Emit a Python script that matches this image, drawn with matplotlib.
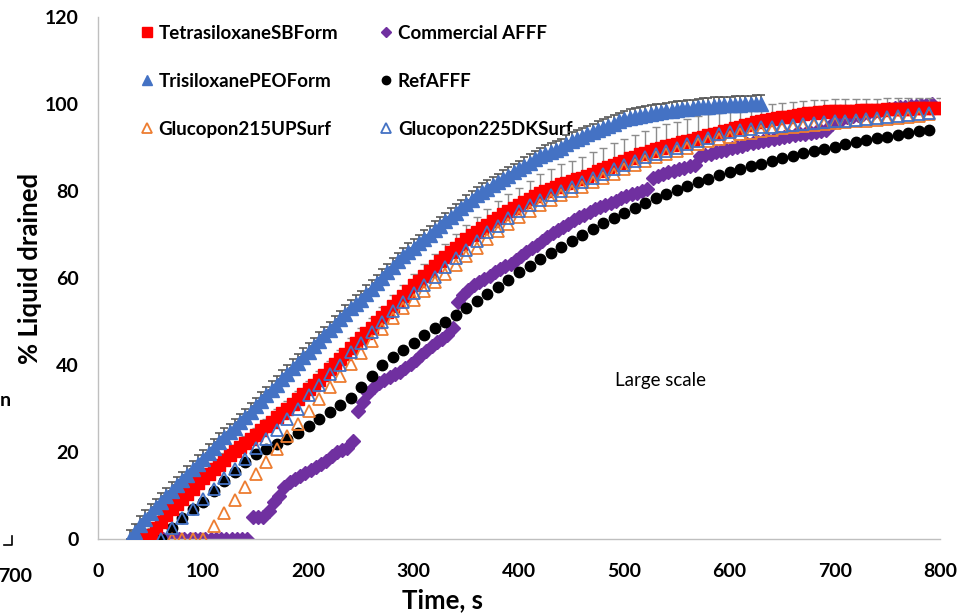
import numpy as np
import matplotlib
matplotlib.use("Agg")
import matplotlib.pyplot as plt

# Data (% liquid drained vs time, s)
# every series is sampled at a fixed step starting at its first time

blue_start, blue_step = 30, 5
blue_vals = [0, 1.5, 3.2, 4.6, 6, 7.3, 8.5, 9.8, 11, 12.3, 13.5, 14.8, 16, 17.2,
             18.5, 19.8, 21, 22.3, 23.5, 24.5, 25.5, 26.8, 28, 29.3, 30.5, 31.8,
             33, 34.3, 35.5, 36.8, 38, 39.3, 40.5, 41.8, 43, 44.3, 45.5, 46.8, 48,
             49.3, 50.5, 51.8, 53, 54, 55, 56.3, 57.5, 58.8, 60, 61.3, 62.5, 63.8,
             65, 66, 67, 68, 69, 70, 71, 72, 73, 74, 75, 76, 77, 78, 79, 79.8,
             80.5, 81.3, 82, 82.8, 83.5, 84.3, 85, 85.8, 86.5, 87.3, 88, 88.5, 89,
             89.5, 90, 90.8, 91.5, 92, 92.5, 93, 93.5, 94, 94.5, 95, 95.5, 96,
             96.5, 96.8, 97, 97.3, 97.5, 97.7, 97.9, 98.1, 98.3, 98.5, 98.6, 98.8,
             98.9, 99, 99.2, 99.3, 99.4, 99.5, 99.6, 99.7, 99.7, 99.8, 99.8, 99.9,
             99.9, 100, 100]
blue_err = 2.0

red_start, red_step = 45, 5
red_vals = [0, 1, 2.5, 4, 5.5, 6.8, 8, 9.2, 10.4, 11.6, 12.8, 14, 15, 16, 17.1,
            18.2, 19.2, 20.2, 21.2, 22.1, 23, 24, 25, 26, 27, 28, 29, 30, 31.1,
            32.2, 33.3, 34.4, 35.5, 36.6, 37.8, 39, 40.2, 41.4, 42.6, 43.8, 45,
            46.2, 47.4, 48.6, 49.8, 51, 52.2, 53.5, 54.7, 55.9, 57.1, 58.3, 59.4,
            60.5, 61.6, 62.7, 63.8, 64.9, 65.9, 66.9, 67.9, 68.9, 69.8,
            70.6, 71.4, 72.2, 73, 73.8, 74.6, 75.4, 76.1, 76.8, 77.5, 78.2, 78.9,
            79.5, 80, 80.5, 81, 81.5, 81.9, 82.3, 82.7, 83, 83.5, 84, 84.5, 85,
            85.5, 86, 86.5, 87, 87.5, 87.9, 88.4, 88.8, 89.2, 89.6, 90, 90.3, 90.6,
            90.9, 91.2, 91.5, 91.8, 92.2, 92.5, 92.8, 93.1, 93.4, 93.7, 94, 94.4,
            94.8, 95.2, 95.5, 95.8, 96, 96.3, 96.5, 96.7, 96.9, 97.1, 97.3, 97.5,
            97.7, 97.9, 98, 98.1, 98.2, 98.3, 98.3, 98.4, 98.4, 98.5, 98.5, 98.6,
            98.6, 98.7, 98.7, 98.7, 98.8, 98.8, 98.8, 98.9, 98.9, 99, 99, 99, 99,
            99, 99]
# upper error bars on every other red point (t = 50, 60, ... 800)
red_err = [1.5, 1.5, 1.5, 1.5, 1.5, 1.5, 1.5, 1.5, 1.5, 1.5,
           1.5, 1.5, 1.8, 1.8, 1.8, 2, 2, 2, 2, 2.3,
           2.3, 2.3, 2.4, 2.5, 2.6, 2.7, 2.8, 2.9, 3, 3.2,
           3.3, 3.4, 3.6, 3.8, 3.9, 4, 4.2, 4.3, 4.5, 4.6,
           4.7, 4.8, 4.9, 5, 5, 5, 5, 5, 5, 5,
           5, 5, 5, 4.8, 4.6, 4.4, 4.2, 4, 3.8, 3.5,
           3.3, 3.2, 3, 3, 2.8, 2.8, 2.7, 2.6, 2.5, 2.5,
           2.5, 2.5, 2.4, 2.4, 2.3, 2.3]

g225_start, g225_step = 60, 10
g225_vals = [0, 2.5, 4.8, 7, 9.3, 11.5, 14, 16.2, 18.5, 21, 23, 25, 27.5, 30, 33,
             35.5, 38, 40, 43, 45, 47.5, 50, 52.5, 54.5, 56.5, 58.3, 60.3, 62.5,
             64.5, 66.5, 68.5, 70.5, 72, 73.8, 75.5, 76.8, 78, 79, 80, 81, 82, 83,
             84, 85, 86, 87, 87.8, 88.5, 89.3, 90, 90.8, 91.5, 92.2, 93, 93.5, 94,
             94.3, 94.6, 94.8, 95, 95.2, 95.4, 95.6, 95.8, 96, 96.2, 96.4, 96.6,
             96.8, 97, 97.2, 97.5, 97.8, 98]

g215_start, g215_step = 70, 10
g215_vals = [0, 0, 0, 0, 3, 6, 9, 12, 15, 17.7, 20.7, 23.7, 26.5, 29.5, 32.2, 35,
             37.5, 40.2, 42.8, 45.5, 48.2, 50.8, 53, 55, 57, 59, 61, 63, 65, 67,
             69, 70.8, 72.5, 74, 75.5, 76.8, 78, 79, 80, 81, 82, 83, 84, 85, 86,
             87, 87.8, 88.5, 89.3, 90, 90.8, 91.5, 92, 92.5, 93, 93.4, 93.8, 94.1,
             94.4, 94.7, 95, 95.2, 95.4, 95.6, 95.8, 96, 96.2, 96.4, 96.6, 96.8, 97,
             97.3, 97.6]

ref_start, ref_step = 60, 10
ref_vals = [0, 2.5, 4.8, 6.8, 8.5, 11, 13.3, 15.5, 17.8, 19.6, 20.8, 21.8, 23,
            24.4, 26, 27.7, 29.2, 30.8, 32.5, 35, 37.5, 40, 41.8, 43.5, 45, 46.8,
            48.5, 50, 51.5, 53, 54.7, 56.4, 58, 59.6, 61.3, 62.8, 64.3, 65.8, 67.2,
            68.6, 70, 71.3, 72.6, 73.8, 75, 76.1, 77.2, 78.3, 79.3, 80.3, 81.2, 82,
            82.8, 83.6, 84.3, 85, 85.7, 86.3, 86.9, 87.5, 88.1, 88.7, 89.2, 89.7,
            90.2, 90.7, 91.2, 91.7, 92.1, 92.5, 92.9, 93.3, 93.7, 94]

afff_start, afff_step = 47, 5
afff_vals = [0, 0, 0, 0, 0, 0, 0, 0, 0, 0, 0, 0, 0, 0, 0, 0, 0, 0, 0, 0,
             5, 5, 5, 6.5, 8.5, 10, 12, 13, 13.8, 14.5, 15.2, 15.8, 16.5, 17.3,
             18, 19, 20, 20.5, 21, 22.5,
             29.5, 31.5, 33.5, 35, 35.8, 36.5, 37.3, 38, 38.5, 39.3, 40.2, 41.2,
             42.2, 43.3, 44.3, 45.3, 46, 47, 48.5,
             54.5, 56, 57.3, 58.3, 59, 59.7, 60.5, 61.3, 62, 62.7, 63.3, 64.2, 65,
             66, 66.8, 67.5, 68.5, 69.5, 70.3, 71, 71.8, 72.5, 73.3, 74, 74.5,
             75.2, 75.8, 76.3, 76.8, 77.3, 77.8, 78.3, 78.8, 79.2, 79.6, 80, 80.4,
             83, 83.5, 84, 84.3, 84.6, 85, 85.3, 85.7, 86,
             88, 88.3, 88.6, 88.9, 89.2, 89.5, 89.8, 90.1, 90.4, 90.7, 91, 91.2,
             91.5, 91.7, 92, 92.2, 92.4, 92.6, 92.8, 93, 93.2, 93.4, 93.6, 93.8, 94,
             95.5, 96.3, 96.6, 96.9, 97.2, 97.5, 97.8, 98, 98.2, 98.4, 98.6, 98.8,
             99, 99.2, 99.4, 99.5, 99.6, 99.7, 99.8, 99.9]

xticks = [0, 100, 200, 300, 400, 500, 600, 700, 800]
yticks = [0, 20, 40, 60, 80, 100, 120]


def times(start, step, vals):
    return start + step * np.arange(len(vals))


def main():
    plt.rcParams["font.family"] = ["Lato", "DejaVu Sans"]

    fig = plt.figure(figsize=(9.68, 6.14), dpi=100)
    ax = fig.add_axes([98/968, 75/614, 842/968, 522/614])

    t_blue = times(blue_start, blue_step, blue_vals)
    t_red = times(red_start, red_step, red_vals)
    t_g225 = times(g225_start, g225_step, g225_vals)
    t_g215 = times(g215_start, g215_step, g215_vals)
    t_ref = times(ref_start, ref_step, ref_vals)
    t_afff = times(afff_start, afff_step, afff_vals)

    # markers, bottom to top
    h_afff, = ax.plot(t_afff, afff_vals, ls="none", marker="D", ms=7,
                      color="#7030A0", mec="#7030A0", zorder=2,
                      label="Commercial AFFF")
    h_ref, = ax.plot(t_ref, ref_vals, ls="none", marker="o", ms=7.5,
                     color="black", zorder=3, label="RefAFFF")
    ax.errorbar(t_red[1::2], np.array(red_vals)[1::2],
                yerr=[np.zeros(len(red_err)), red_err], fmt="none",
                ecolor="#8C8C8C", elinewidth=1.0, capsize=3, capthick=1.0,
                zorder=3.5)
    h_red, = ax.plot(t_red, red_vals, ls="none", marker="s", ms=8.2,
                     color="#FF0000", mec="#FF0000", zorder=4,
                     label="TetrasiloxaneSBForm")
    h_g215, = ax.plot(t_g215, g215_vals, ls="none", marker="^", ms=8.5,
                      mfc="none", mec="#ED7D31", mew=1.3, zorder=5,
                      label="Glucopon215UPSurf")
    h_g225, = ax.plot(t_g225, g225_vals, ls="none", marker="^", ms=8.5,
                      mfc="none", mec="#4472C4", mew=1.3, zorder=6,
                      label="Glucopon225DKSurf")
    ax.errorbar(t_blue, blue_vals,
                yerr=[np.zeros(len(blue_vals)), np.full(len(blue_vals), blue_err)],
                fmt="none", ecolor="#595959", elinewidth=1.2, capsize=3,
                capthick=1.2, zorder=6.5)
    h_blue, = ax.plot(t_blue, blue_vals, ls="none", marker="^", ms=9.5,
                      color="#4472C4", mec="#4472C4", zorder=7,
                      label="TrisiloxanePEOForm")

    ax.set_xlim(0, 800)
    ax.set_ylim(0, 120)
    ax.set_xticks(xticks)
    ax.set_yticks(yticks)
    ax.tick_params(axis="y", length=0, labelsize=14, pad=14)
    ax.tick_params(axis="x", length=0, labelsize=14, pad=17)
    for lab in ax.get_xticklabels() + ax.get_yticklabels():
        lab.set_fontweight("bold")
    for side in ["top", "right"]:
        ax.spines[side].set_visible(False)
    for side in ["left", "bottom"]:
        ax.spines[side].set_color("#BFBFBF")
        ax.spines[side].set_linewidth(1.0)

    fig.text(442/968, 1 - 600/614, "Time, s", fontsize=18.5,
             fontweight="bold", ha="center", va="center")
    fig.text(30/968, 1 - 268/614, "% Liquid drained", fontsize=18.5,
             fontweight="bold", ha="center", va="center", rotation=90)

    handles = [h_red, h_blue, h_g215, h_afff, h_ref, h_g225]
    ax.legend(handles=handles, ncol=2, frameon=False, loc="upper left",
              bbox_to_anchor=(0.036, 1.01),
              prop={"weight": "bold", "size": 13.5},
              handlelength=0.55, handletextpad=0.35, labelspacing=1.65,
              columnspacing=2.3, markerscale=0.8, borderaxespad=0.3)

    ax.text(534, 36.5, "Large scale", fontsize=13.5, ha="center",
            va="center")

    # remnants of the neighbouring panel on the left edge
    fig.text(-0.002, 1 - 577/614, "700", fontsize=14, fontweight="bold",
             ha="left", va="center")
    fig.text(0.0, 1 - 400/614, "n", fontsize=14, fontweight="bold",
             ha="left", va="center")
    fig.add_artist(plt.Line2D([4/968, 12/968, 12/968],
                              [1 - 545/614, 1 - 545/614, 1 - 536/614],
                              color="black", lw=1.2))

    fig.savefig("out.png", dpi=100)
    plt.close(fig)


if __name__ == "__main__":
    main()
